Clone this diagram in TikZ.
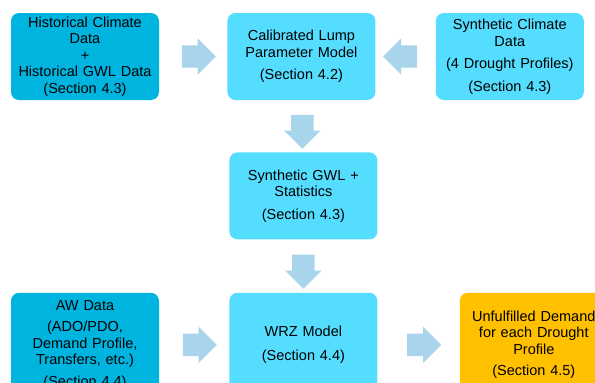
\documentclass[tikz,border=0pt]{standalone}
\usepackage{fontspec}
\setmainfont{Liberation Sans}
\usetikzlibrary{positioning, calc, shapes.arrows}
\definecolor{datablue}{RGB}{0,180,224}
\definecolor{modelblue}{RGB}{85,221,255}
\definecolor{resultorange}{RGB}{255,192,0}
\definecolor{flowblue}{RGB}{168,212,236}
\tikzset{
  base/.style={
    rounded corners=8pt, inner sep=2pt,
    minimum width=148pt, minimum height=87pt,
    text width=142pt, align=center,
    font=\fontsize{14.5pt}{16.5pt}\selectfont,
  },
  databox/.style  ={base, fill=datablue},
  modelbox/.style ={base, fill=modelblue},
  resbox/.style   ={base, fill=resultorange},
  tallbox/.style  ={minimum height=104pt},
  flow/.style={
    single arrow, fill=flowblue, draw=none,
    inner sep=11pt, single arrow head extend=7pt,
    minimum height=34pt,
  },
}
\begin{document}
\begin{tikzpicture}

\path[use as bounding box, clip] (0,0) rectangle (595pt,-383pt);

%% ════════════════════════════════════════════════════════════
%%  TOP ROW
%% ════════════════════════════════════════════════════════════
\node[databox] (hist) at (85pt,-56.5pt)
  {Historical Climate\\ Data\\ +\\ Historical GWL Data\\ (Section 4.3)};

\node[modelbox, right=68pt of hist] (calib)
  {Calibrated Lump\\ Parameter Model\\[6pt] (Section 4.2)};

\node[modelbox, right=60pt of calib] (synclim)
  {Synthetic Climate\\ Data\\[6pt] (4 Drought Profiles)\\[6pt] (Section 4.3)};

%% ════════════════════════════════════════════════════════════
%%  MIDDLE
%% ════════════════════════════════════════════════════════════
\node[modelbox, below=52pt of calib, xshift=2pt] (syngwl)
  {Synthetic GWL +\\ Statistics\\[6pt] (Section 4.3)};

%% ════════════════════════════════════════════════════════════
%%  BOTTOM ROW
%% ════════════════════════════════════════════════════════════
\node[modelbox, tallbox, below=53pt of syngwl] (wrz)
  {WRZ Model\\[8pt] (Section 4.4)};

\node[databox, tallbox, left=70pt of wrz] (aw)
  {AW Data\\[5pt] (ADO/PDO,\\ Demand Profile,\\ Transfers, etc.)\\[5pt] (Section 4.4)};

\node[resbox, tallbox, right=82pt of wrz] (unful)
  {Unfulfilled Demand\\ for each Drought\\ Profile\\[5pt] (Section 4.5)};

% flow arrows
\node[flow] (f1) at ($(hist.east)!0.5!(calib.west)$) {};
\node[flow, shape border rotate=180] (f2) at ($(synclim.west)!0.5!(calib.east)$) {};
\node[flow, shape border rotate=270] (f3) at ($(calib.south)!0.5!(syngwl.north)$) {};
\node[flow, shape border rotate=270] (f4) at ($(syngwl.south)!0.5!(wrz.north)$) {};
\node[flow] (f5) at ($(aw.east)!0.5!(wrz.west)$) {};
\node[flow] (f6) at ($(wrz.east)!0.5!(unful.west)$) {};

\end{tikzpicture}
\end{document}
